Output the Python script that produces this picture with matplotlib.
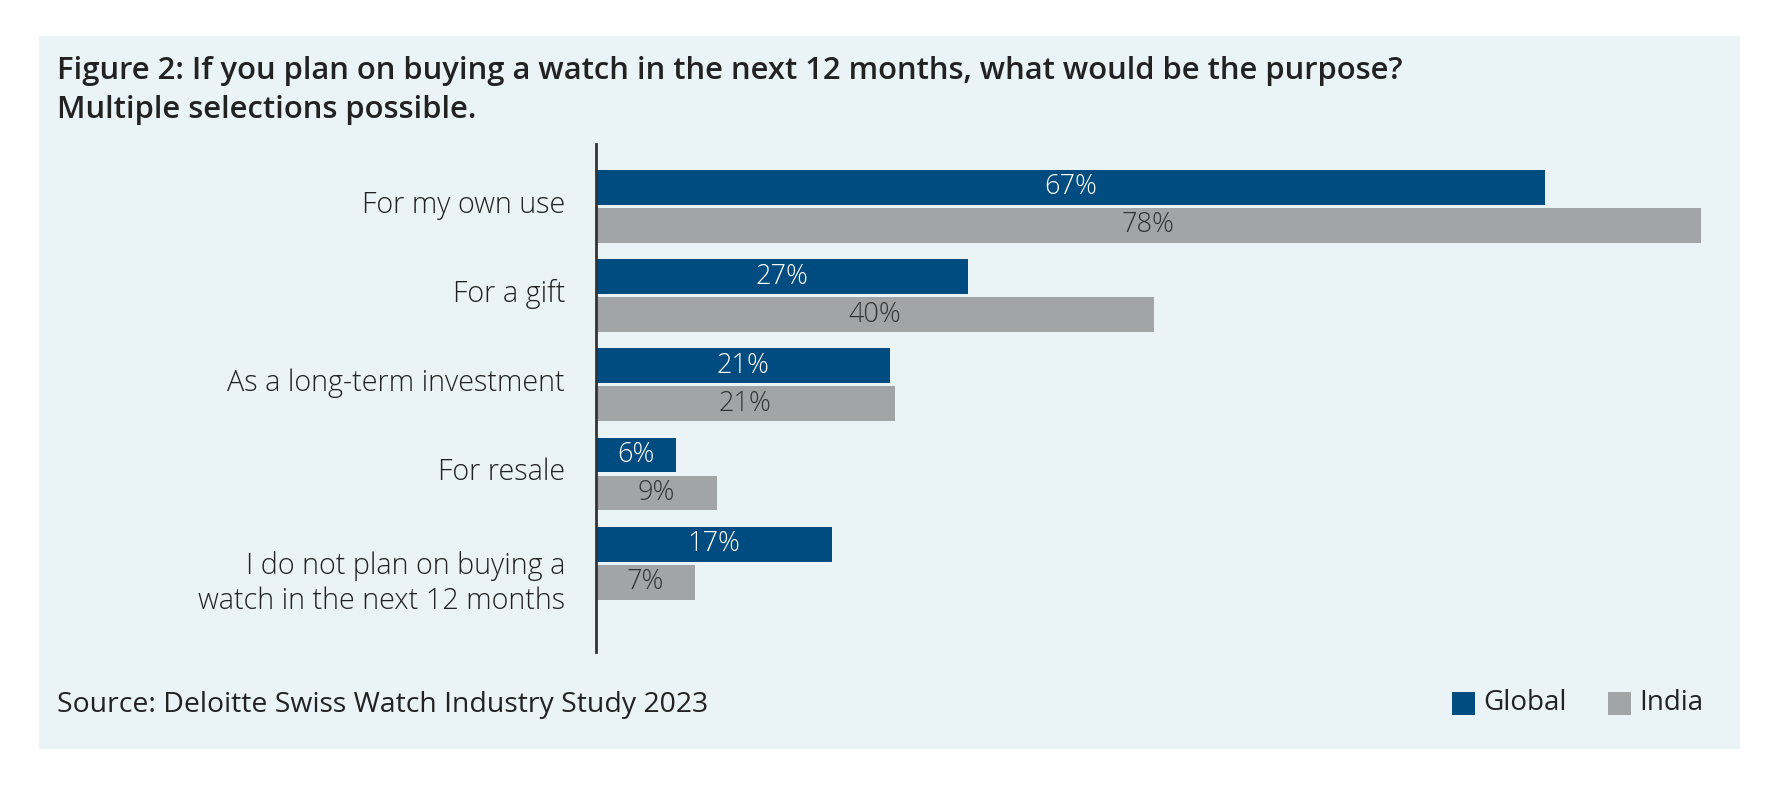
import matplotlib
matplotlib.use("Agg")
import matplotlib.pyplot as plt
import matplotlib.transforms as mtransforms
from matplotlib.patches import Rectangle

plt.rcParams["font.family"] = ["Open Sans", "DejaVu Sans"]

categories = ["For my own use", "For a gift", "As a long-term investment", "For resale",
              "I do not plan on buying a\nwatch in the next 12 months"]
# bar lengths, printed labels as shown
global_vals = [67, 26.3, 20.8, 5.7, 16.7]
india_vals = [78, 39.4, 21.1, 8.6, 7.0]
global_labels = ["67%", "27%", "21%", "6%", "17%"]
india_labels = ["78%", "40%", "21%", "9%", "7%"]
series_names = ["Global", "India"]

c_global = "#004b7f"
c_india = "#a2a5a8"
panel = "#eaf3f6"
txt = "#222222"

W, H = 1782, 788
fig = plt.figure(figsize=(W / 100, H / 100), dpi=100)
fig.patch.set_facecolor("white")
fig.patches.append(Rectangle((39 / W, 1 - 749 / H), (1740 - 39) / W, (749 - 36) / H,
                             transform=fig.transFigure, facecolor=panel, edgecolor="none", zorder=-5))

ax = fig.add_axes([595.5 / W, 1 - 652 / H, (1701 - 595.5) / W, (652 - 144) / H])
ax.set_zorder(5)
ax.set_facecolor("none")

off, h = 0.213, 0.39
ys = list(range(len(categories)))
bg = ax.barh([y - off for y in ys], global_vals, height=h, color=c_global)
bi = ax.barh([y + off for y in ys], india_vals, height=h, color=c_india)

for rect, lab in zip(bg, global_labels):
    ax.text(rect.get_x() + rect.get_width() / 2, rect.get_y() + rect.get_height() / 2,
            lab, ha="center", va="center", color="white", fontsize=19.5, fontweight="light")
for rect, lab in zip(bi, india_labels):
    ax.text(rect.get_x() + rect.get_width() / 2, rect.get_y() + rect.get_height() / 2,
            lab, ha="center", va="center", color="#333333", fontsize=19.5, fontweight="light")

ax.set_xlim(0, 78)
ax.set_ylim(4.995, -0.70)
ax.set_yticks(ys)
ax.set_yticklabels(categories, fontsize=20.7, color=txt, fontweight="light", linespacing=1.28)
ax.tick_params(axis="y", length=0, pad=22)
ax.set_xticks([])
for s in ["top", "right", "bottom"]:
    ax.spines[s].set_visible(False)
ax.spines["left"].set_color("#333333")
ax.spines["left"].set_linewidth(2)

# nudge the labels: single lines sit a bit high, the two-line one a bit low
for lab in ax.get_yticklabels():
    dy = -13.6 if "\n" in lab.get_text() else 5
    lab.set_transform(lab.get_transform() + mtransforms.ScaledTranslation(0, dy / 100, fig.dpi_scale_trans))

fig.text(57 / W, 1 - 56 / H, "Figure 2: If you plan on buying a watch in the next 12 months, what would be the purpose?\nMultiple selections possible.",
         ha="left", va="top", fontsize=22.3, fontweight="semibold", color=txt, linespacing=1.375)
fig.text(57 / W, 1 - 705 / H, "Source: Deloitte Swiss Watch Industry Study 2023",
         ha="left", va="center", fontsize=20.4, color=txt)

# legend
for name, col, x0 in [(series_names[0], c_global, 1452), (series_names[1], c_india, 1608)]:
    fig.patches.append(Rectangle((x0 / W, 1 - 715 / H), 23 / W, 23 / H, transform=fig.transFigure,
                                 facecolor=col, edgecolor="none"))
    fig.text((x0 + 31) / W, 1 - 703 / H, name, ha="left", va="center", fontsize=20, color=txt)

fig.savefig("out.png", dpi=100)
